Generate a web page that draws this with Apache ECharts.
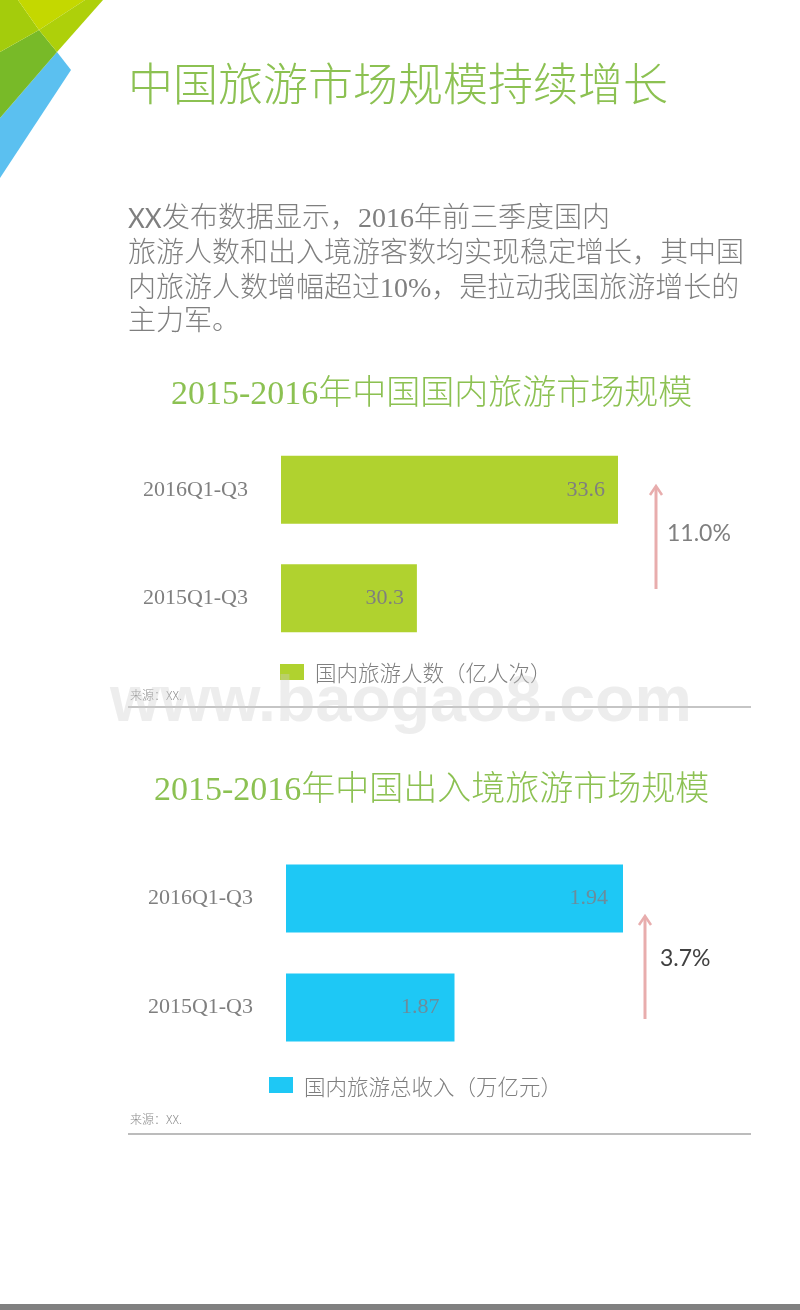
<!DOCTYPE html>
<html>
<head>
<meta charset="utf-8">
<style>
  html, body { margin: 0; padding: 0; background: #fff; }
  #chart { width: 800px; height: 1310px; }
</style>
<script src="https://cdn.jsdelivr.net/npm/echarts@6/dist/echarts.min.js"></script>
</head>
<body>
<div id="chart"></div>
<script>
var categories = ['2016Q1-Q3', '2015Q1-Q3']
var domesticName = '国内旅游人数（亿人次）'
var domesticValues = [33.6, 30.3]
var inboundName = '国内旅游总收入（万亿元）'
var inboundValues = [1.94, 1.87]

var SERIF = '"Liberation Serif", "Noto Sans CJK SC"'
var GREEN = '#8CC152'
var GRAY = '#7F7F7F'

var chart = echarts.init(document.getElementById('chart'))

function text(x, y, str, size, color, family, weight) {
  return {
    type: 'text', x: x, y: y, silent: true,
    style: { text: str, font: (weight || 300) + ' ' + size + 'px ' + (family || SERIF), fill: color, textVerticalAlign: 'middle' }
  }
}

function poly(points, color) {
  return { type: 'polygon', silent: true, shape: { points: points }, style: { fill: color } }
}

function rule(x1, x2, y, color, width) {
  return { type: 'line', silent: true, shape: { x1: x1, y1: y, x2: x2, y2: y }, style: { stroke: color, lineWidth: width } }
}

// 涨幅箭头
function arrow(x, y1, y2) {
  return [
    { type: 'line', silent: true, shape: { x1: x, y1: y1, x2: x, y2: y2 + 2 }, style: { stroke: '#E8ADAD', lineWidth: 3 } },
    { type: 'polyline', silent: true, shape: { points: [[x - 6, y2 + 10], [x, y2 + 1], [x + 6, y2 + 10]] }, style: { stroke: '#E8ADAD', lineWidth: 2.5, fill: 'none' } }
  ]
}

function yAxis(index) {
  return {
    type: 'category', gridIndex: index, inverse: true, data: categories,
    axisLine: { show: false }, axisTick: { show: false },
    axisLabel: { margin: 33, fontSize: 22, color: GRAY, fontFamily: SERIF }
  }
}

function barSeries(name, values, index, color, labelColor, labelDistance) {
  return {
    type: 'bar', name: name, data: values, xAxisIndex: index, yAxisIndex: index,
    barWidth: 68, itemStyle: { color: color },
    label: { show: true, position: 'insideRight', distance: labelDistance, fontSize: 22, color: labelColor, fontFamily: SERIF }
  }
}

function legend(name, left, top, textTop) {
  return {
    data: [name], left: left, top: top, itemWidth: 24, itemHeight: 16,
    icon: 'rect', selectedMode: false,
    formatter: '{a|{name}}',
    textStyle: {
      rich: { a: { fontSize: 21.5, color: GRAY, fontFamily: SERIF, fontWeight: 300, padding: [textTop, 0, 0, 6] } }
    }
  }
}

var graphic = [
  poly([[57, 52], [71, 70], [0, 178], [0, 118]], '#5BC0F0'),
  poly([[39, 30], [57, 52], [0, 118], [0, 52]], '#78BA28'),
  poly([[0, 0], [18, 0], [39, 30], [0, 52]], '#A4CC0C'),
  poly([[18, 0], [85, 0], [39, 30]], '#C4D800'),
  poly([[39, 30], [85, 0], [103, 0], [57, 52]], '#AED00A'),

  text(128, 89, '中国旅游市场规模持续增长', 45, GREEN),
  text(128, 220, 'XX', 26, GRAY, 'Lato', 400),
  text(162, 220, '发布数据显示，2016年前三季度国内', 28, GRAY),
  text(128, 255, '旅游人数和出入境游客数均实现稳定增长，其中国', 28, GRAY),
  text(128, 290, '内旅游人数增幅超过10%，是拉动我国旅游增长的', 28, GRAY),
  text(128, 323, '主力军。', 28, GRAY),
  text(171, 395, '2015-2016年中国国内旅游市场规模', 34, GREEN),
  text(154, 791, '2015-2016年中国出入境旅游市场规模', 34, GREEN),

  text(667, 534, '11.0%', 23, GRAY, 'Lato', 400),
  text(660, 959, '3.7%', 23, '#404040', 'Lato', 400),
  text(130, 695, '来源：XX.', 12, '#8C8C8C', '"Noto Sans CJK SC"'),
  text(130, 1119, '来源：XX.', 12, '#8C8C8C', '"Noto Sans CJK SC"'),
  rule(128, 751, 707, '#8C8C8C', 1.2),
  rule(128, 751, 1134, '#A6A6A6', 1.6),
  { type: 'rect', silent: true, shape: { x: 0, y: 1304, width: 800, height: 6 }, style: { fill: '#808080' } }
].concat(arrow(656, 589, 485), arrow(645, 1019, 915))

// 水印盖在最上层
graphic.push({
  type: 'text', x: 110, y: 703, silent: true, z: 100,
  style: {
    text: 'www.baogao8.com', font: 'bold 64.5px "Liberation Sans"',
    fill: 'rgba(205,205,205,0.36)', textVerticalAlign: 'middle'
  }
})

chart.setOption({
  animation: false,
  backgroundColor: '#fff',
  grid: [
    { left: 281, top: 435.5, width: 337, height: 217 },
    { left: 286, top: 844, width: 337, height: 218 }
  ],
  xAxis: [
    { type: 'value', gridIndex: 0, min: 28.07, max: 33.6, show: false },
    { type: 'value', gridIndex: 1, min: 1.8, max: 1.94, show: false }
  ],
  yAxis: [yAxis(0), yAxis(1)],
  legend: [legend(domesticName, 275, 659, 6), legend(inboundName, 264, 1072, 8)],
  series: [
    barSeries(domesticName, domesticValues, 0, '#B0D22F', GRAY, 13),
    barSeries(inboundName, inboundValues, 1, '#1EC8F5', '#6B8C9C', 15)
  ],
  graphic: graphic
})
</script>
</body>
</html>
